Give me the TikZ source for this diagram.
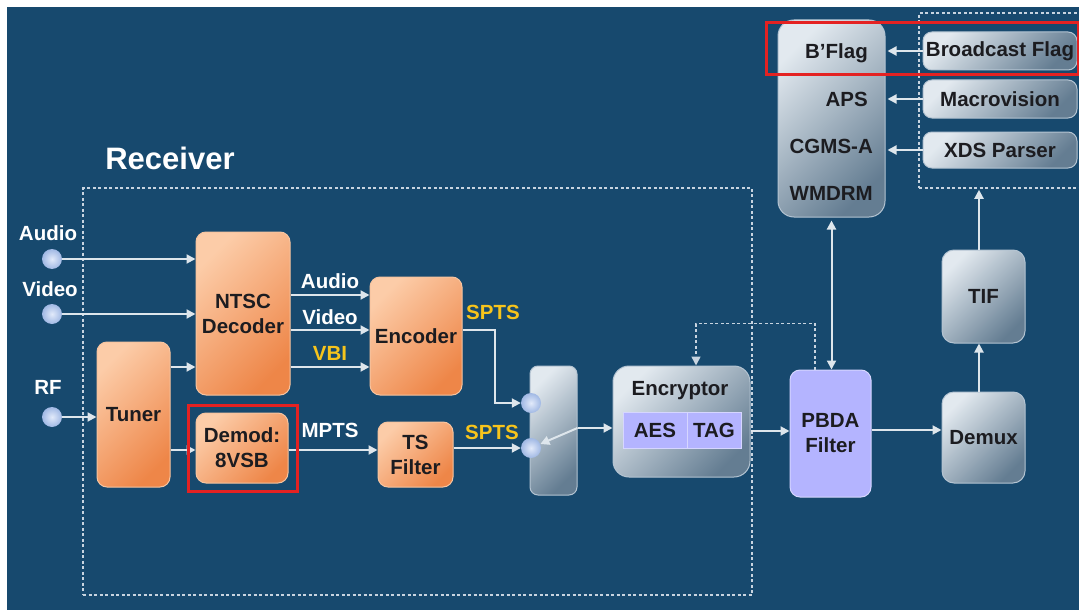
\documentclass[tikz,border=0pt]{standalone}
\usepackage{fontspec}
\setmainfont{Liberation Sans}
\usetikzlibrary{arrows.meta,calc}
\definecolor{bg}{RGB}{23,73,110}
\definecolor{orL}{RGB}{252,204,168}
\definecolor{orD}{RGB}{238,134,72}
\definecolor{orB}{RGB}{246,196,160}
\definecolor{grL}{RGB}{226,233,239}
\definecolor{grD}{RGB}{100,125,146}
\definecolor{grB}{RGB}{180,196,210}
\definecolor{lav}{RGB}{180,180,255}
\definecolor{lavB}{RGB}{214,214,255}
\definecolor{txt}{RGB}{28,28,32}
\definecolor{lineC}{RGB}{222,230,236}
\definecolor{dashC}{RGB}{200,212,224}
\definecolor{ylw}{RGB}{246,196,28}
\definecolor{redC}{RGB}{228,34,34}
\definecolor{inL}{RGB}{226,234,250}
\definecolor{inD}{RGB}{160,184,228}
\newcommand\lblfont{\fontsize{20.5}{25}\selectfont\bfseries}
\begin{document}
\begin{tikzpicture}[x=1pt,y=-1pt,
  ob/.style={draw=orB, line width=1pt, rounded corners=10pt, top color=orL, bottom color=orD, shading angle=45, text=txt, align=center, inner sep=0pt, font=\lblfont},
  gb/.style={draw=grB, line width=1pt, rounded corners=12pt, top color=grL, bottom color=grD, shading angle=45, text=txt, align=center, inner sep=0pt, font=\lblfont},
  lb/.style={draw=lavB, line width=1pt, rounded corners=10pt, fill=lav, text=txt, align=center, inner sep=0pt, font=\lblfont},
  cell/.style={draw=lavB, line width=0.8pt, fill=lav, text=txt, inner sep=0pt, font=\lblfont, minimum height=36pt},
  inp/.style={circle, inner color=inL, outer color=inD, minimum size=20pt, inner sep=0pt},
  dbox/.style={draw=dashC, line width=1.5pt, dash pattern=on 3pt off 2.5pt, inner sep=0pt},
  wl/.style={text=white, font=\lblfont, inner sep=0pt},
  yl/.style={text=ylw, font=\lblfont, inner sep=0pt},
  tl/.style={text=txt, font=\lblfont, inner sep=0pt},
  arr/.style={draw=lineC, line width=2pt, -{Triangle[length=9pt,width=9pt]}},
  darr/.style={draw=lineC, line width=2pt, {Triangle[length=9pt,width=9pt]}-{Triangle[length=9pt,width=9pt]}},
  dashedarr/.style={draw=dashC, line width=1.6pt, dash pattern=on 3pt off 2.5pt, -{Triangle[length=9pt,width=9pt]}},
  redbox/.style={draw=redC, line width=3pt}
]
\useasboundingbox (0,0) rectangle (1079,610);
\fill[white] (0,0) rectangle (1079,610);
\fill[bg] (7,7) rectangle (1079,610);
\clip (0,0) rectangle (1079,610);

% dashed containers
\node[dbox, minimum width=669pt, minimum height=407pt] (rcv) at (417.5,391.5) {};
\node[dbox, minimum width=170pt, minimum height=175pt] (rbox) at (1004,100.5) {};
\node[text=white, font=\fontsize{31}{36}\selectfont\bfseries, inner sep=0pt] (rcvl) at (170,158) {Receiver};

% inputs
\node[wl] (lA) at (48,233) {Audio};
\node[wl] (lV) at (50,289) {Video};
\node[wl] (lR) at (48,387) {RF};
\node[inp] (inA) at (52,259) {};
\node[inp] (inV) at (52,314) {};
\node[inp] (inR) at (52,417) {};

% orange boxes
\node[ob, minimum width=94pt, minimum height=163pt] (ntsc) at (243,313.5) {NTSC\\Decoder};
\node[ob, minimum width=73pt, minimum height=145pt] (tuner) at (133.5,414.5) {Tuner};
\node[ob, minimum width=92pt, minimum height=70pt] (demod) at (242,448) {Demod:\\8VSB};
\node[ob, minimum width=92pt, minimum height=118pt] (enc) at (416,336) {Encoder};
\node[ob, minimum width=75pt, minimum height=65pt] (tsf) at (415.5,454.5) {TS\\Filter};

% mux
\node[gb, rounded corners=8pt, minimum width=47pt, minimum height=129pt] (mux) at (553.5,430.5) {};
\node[inp] (c1) at (531,403) {};
\node[inp] (c2) at (531,448) {};

% encryptor
\node[gb, rounded corners=16pt, minimum width=137pt, minimum height=111pt] (encr) at (681.5,421.5) {};
\node[tl] (encrt) at (680,391) {Encryptor};
\node[cell, minimum width=64pt] (aes) at (655,430) {AES};
\node[cell, minimum width=54pt] (tag) at (714,430) {TAG};

% PBDA, demux, TIF
\node[lb, minimum width=81pt, minimum height=127pt] (pbda) at (830.5,433.5) {PBDA\\Filter};
\node[gb, minimum width=83pt, minimum height=91pt] (demux) at (983.5,437.5) {Demux};
\node[gb, minimum width=83pt, minimum height=93pt] (tif) at (983.5,296.5) {TIF};

% DRM box
\node[gb, rounded corners=16pt, minimum width=107pt, minimum height=197pt] (drm) at (831.5,118.5) {};
\node[tl, anchor=east] (tbf) at (868,53) {B’Flag};
\node[tl, anchor=east] (taps) at (868,99) {APS};
\node[tl, anchor=east] (tcgms) at (873,146) {CGMS-A};
\node[tl, anchor=east] (twm) at (873,193) {WMDRM};

% right boxes
\node[gb, rounded corners=9pt, minimum width=154pt, minimum height=38pt] (bf) at (1000,51) {Broadcast Flag};
\node[gb, rounded corners=9pt, minimum width=154pt, minimum height=38pt] (mv) at (1000,99) {Macrovision};
\node[gb, rounded corners=9pt, minimum width=154pt, minimum height=36pt] (xds) at (1000,150) {XDS Parser};

% labels
\node[wl] (la2) at (330,281) {Audio};
\node[wl] (lv2) at (330,317) {Video};
\node[yl] (lvbi) at (330,353) {VBI};
\node[wl] (lmp) at (330,430) {MPTS};
\node[yl] (ls1) at (493,312) {SPTS};
\node[yl] (ls2) at (492,432) {SPTS};

% connectors: inputs
\draw[arr] (inA) -- (inA -| ntsc.west);
\draw[arr] (inV) -- (inV -| ntsc.west);
\draw[arr] (inR) -- (inR -| tuner.west);
\coordinate (t1) at ([yshift=47.5pt]tuner.east);
\coordinate (t2) at ([yshift=-35.5pt]tuner.east);
\draw[arr] (t1) -- (t1 -| ntsc.west);
\draw[arr] (t2) -- (t2 -| demod.west);
% NTSC -> encoder
\coordinate (n1) at ([yshift=18.5pt]ntsc.east);
\coordinate (n2) at ([yshift=-16.5pt]ntsc.east);
\coordinate (n3) at ([yshift=-53.5pt]ntsc.east);
\draw[arr] (n1) -- (n1 -| enc.west);
\draw[arr] (n2) -- (n2 -| enc.west);
\draw[arr] (n3) -- (n3 -| enc.west);
% demod -> TS filter
\coordinate (d1) at ([yshift=-2pt]demod.east);
\draw[arr] (d1) -- (d1 -| tsf.west);
% encoder -> mux
\draw[arr] ([yshift=6pt]enc.east) -| ([xshift=-36pt]c1.center) -- (c1);
\draw[arr] (tsf.east |- c2) -- (c2);
% switch
\coordinate (m1) at ([yshift=2.5pt]mux.east);
\draw[arr] (m1) -- (c2);
\draw[arr] (m1) -- (m1 -| encr.west);
% encryptor -> PBDA
\coordinate (e1) at ([yshift=-9.5pt]encr.east);
\draw[arr] (e1) -- (e1 -| pbda.west);
% PBDA -> demux
\coordinate (p1) at ([yshift=3.5pt]pbda.east);
\draw[arr] (p1) -- (p1 -| demux.west);
% demux -> TIF -> box
\coordinate (x1) at ([xshift=-4.5pt]demux.north);
\draw[arr] (x1) -- (x1 |- tif.south);
\coordinate (x2) at ([xshift=-4.5pt]tif.north);
\draw[arr] (x2) -- ([yshift=-1pt]x2 |- rbox.south);
% PBDA <-> DRM
\draw[darr, shorten <=3pt] (drm.south) -- (drm.south |- pbda.north);
% dashed feedback
\draw[dashedarr] ([xshift=-15.5pt]pbda.north) -- ++(0,-46) -| ([xshift=14.5pt]encr.north);
% right boxes -> DRM
\draw[arr] (bf.west) -- ([xshift=2pt]bf.west -| drm.east);
\draw[arr] (mv.west) -- ([xshift=2pt]mv.west -| drm.east);
\draw[arr] (xds.west) -- ([xshift=2pt]xds.west -| drm.east);

% red highlight boxes
\draw[redbox] (188,405) rectangle (297,491);
\draw[redbox] (766,23) rectangle (1078,75);
\end{tikzpicture}
\end{document}
